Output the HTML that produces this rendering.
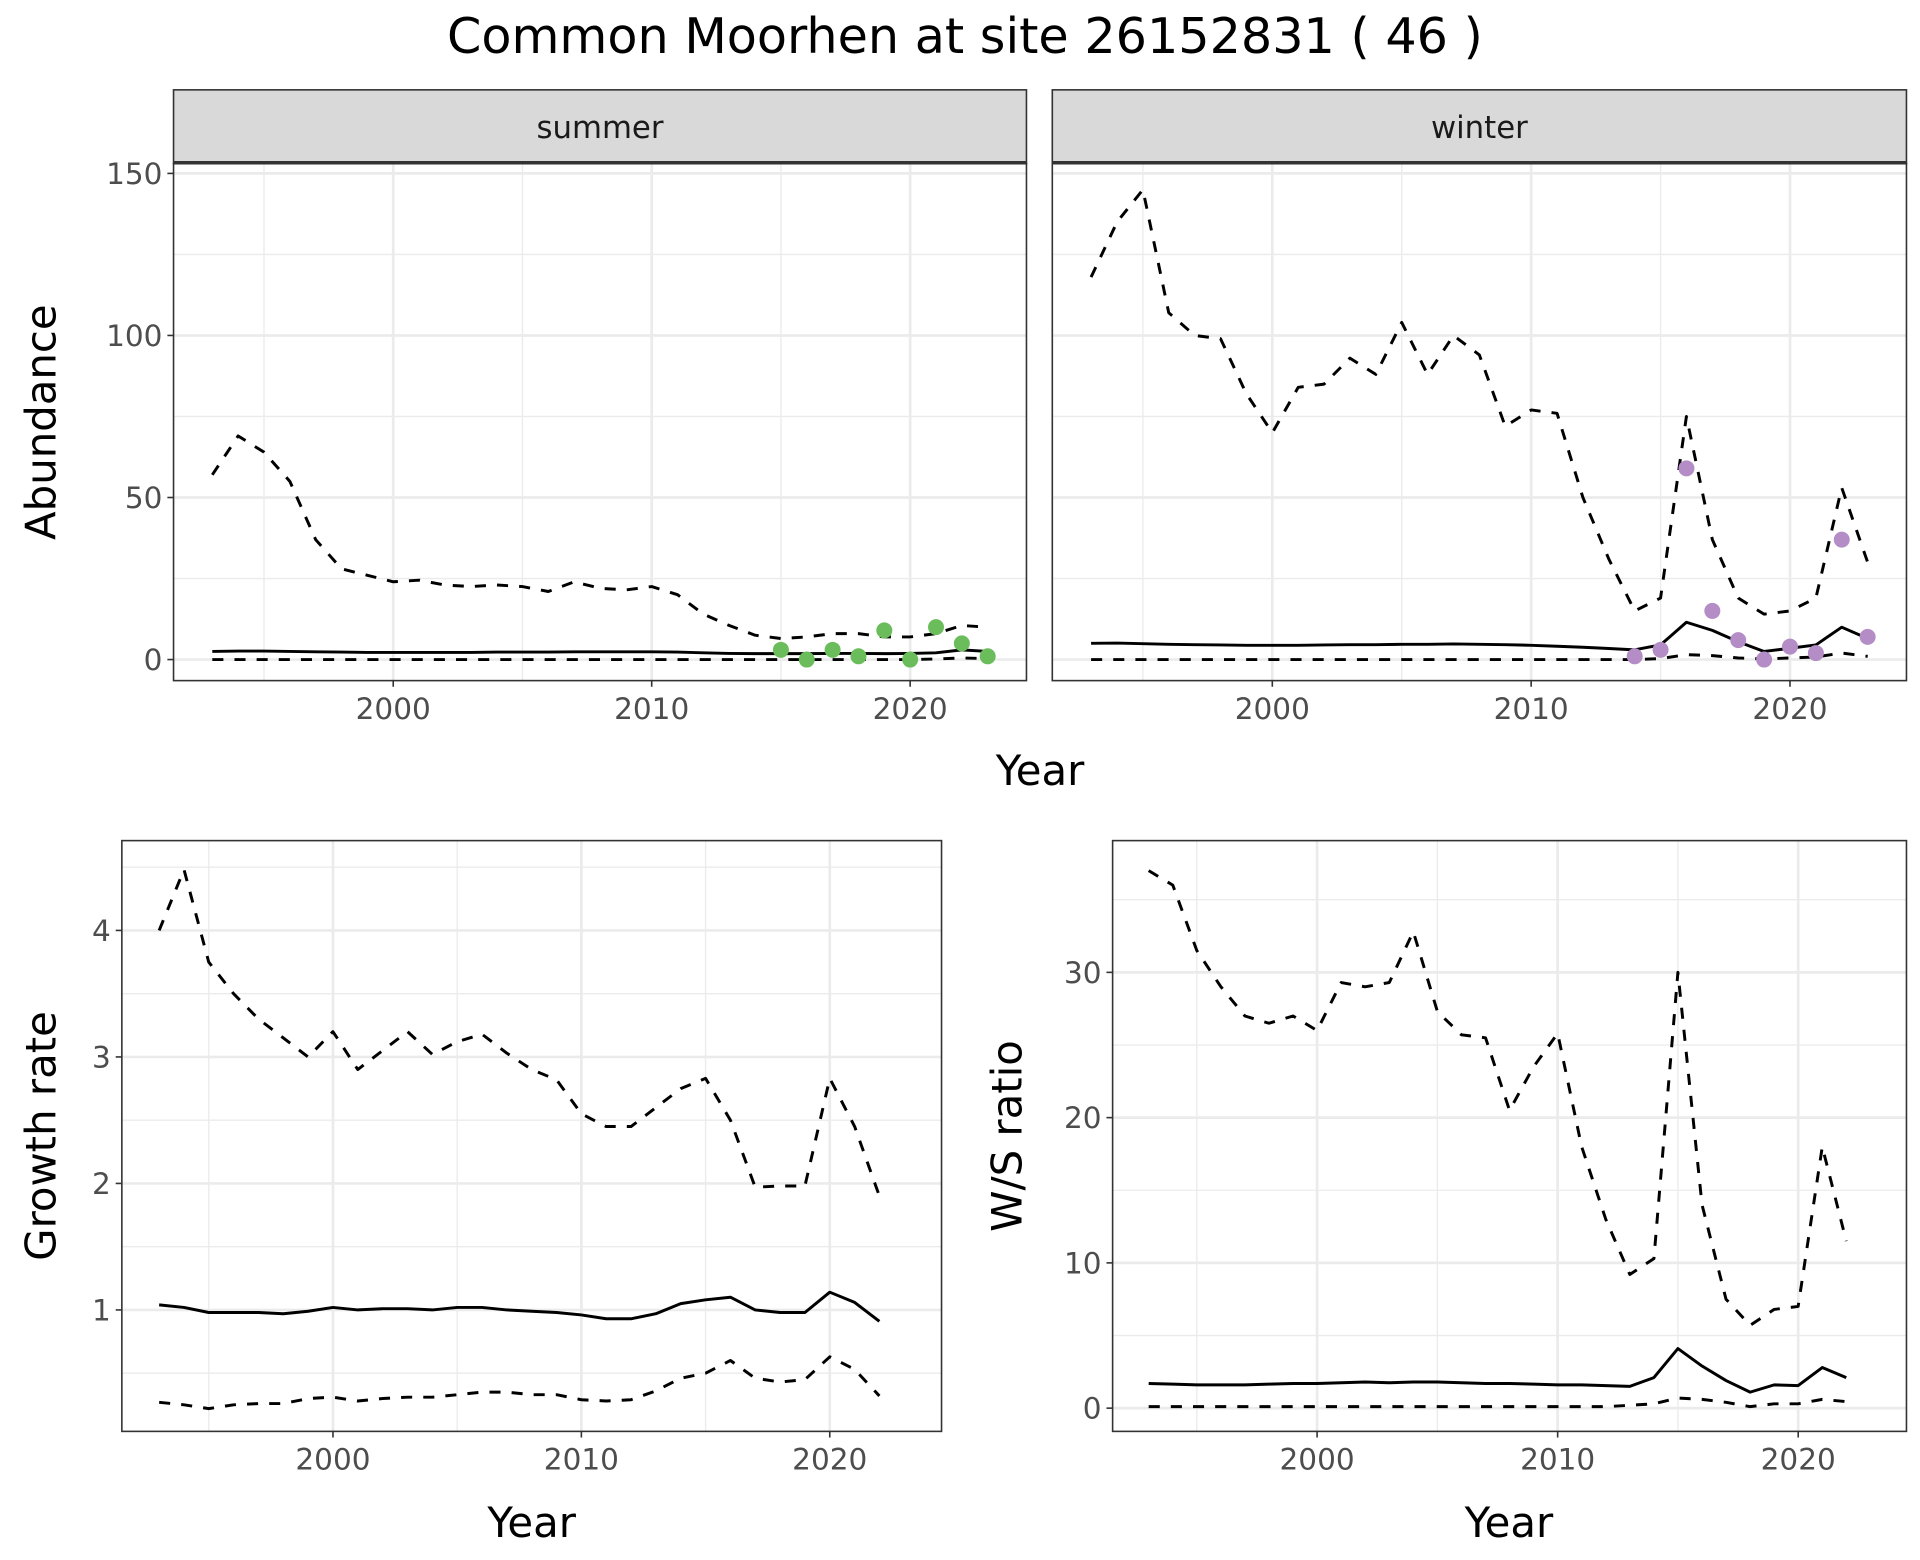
<!DOCTYPE html>
<html><head><meta charset="utf-8"><style>
html,body{margin:0;padding:0;background:#fff}
svg{display:block;font-family:"DejaVu Sans","Liberation Sans",sans-serif}
</style></head><body>
<svg id="c" width="1920" height="1560" viewBox="0 0 1560 1267.5" xmlns="http://www.w3.org/2000/svg">
<text x="784" y="43" text-anchor="middle" font-size="40" fill="#000">Common Moorhen at site 26152831 ( 46 )</text>
</svg>
<script>
// ---- data ----
const yearsA = [1993,1994,1995,1996,1997,1998,1999,2000,2001,2002,2003,2004,2005,2006,2007,2008,2009,2010,2011,2012,2013,2014,2015,2016,2017,2018,2019,2020,2021,2022,2023];
const summerUpper = [57,69,64,55,37,28,26,24,24.5,23,22.5,23,22.5,21,24,22,21.5,22.5,20,14,10.5,7.5,6.5,7,8,8,7,7,8,10.5,10];
const summerMid = [2.5,2.6,2.6,2.5,2.4,2.3,2.2,2.2,2.2,2.2,2.2,2.3,2.3,2.3,2.4,2.4,2.4,2.4,2.3,2.1,1.9,1.8,1.8,1.8,1.9,1.9,1.8,1.9,2.1,3,2.5];
const summerLower = [0,0,0,0,0,0,0,0,0,0,0,0,0,0,0,0,0,0,0,0,0,0,0,0,0,0,0,0,0.2,0.5,0.3];
const summerPtYears = [2015,2016,2017,2018,2019,2020,2021,2022,2023];
const summerCounts = [3,0,3,1,9,0,10,5,1];
const winterUpper = [118,135,145,107,100,99,82,70,84,85,93,88,104,88,100,94,72,77,76,50,31,15,19,75,37,19,14,15,19,53,30];
const winterMid = [5,5.1,4.9,4.7,4.6,4.5,4.4,4.4,4.4,4.5,4.6,4.6,4.7,4.7,4.8,4.7,4.6,4.4,4.1,3.8,3.4,3,4.5,11.5,9,5.5,2.5,3.5,4.5,10,6.5];
const winterLower = [0,0,0,0,0,0,0,0,0,0,0,0,0,0,0,0,0,0,0,0,0,0,0.3,1.5,1.2,0.5,0.2,0.5,0.8,2,1];
const winterPtYears = [2014,2015,2016,2017,2018,2019,2020,2021,2022,2023];
const winterCounts = [1,3,59,15,6,0,4,2,37,7];
const yearsB = [1993,1994,1995,1996,1997,1998,1999,2000,2001,2002,2003,2004,2005,2006,2007,2008,2009,2010,2011,2012,2013,2014,2015,2016,2017,2018,2019,2020,2021,2022];
const growthUpper = [4.0,4.48,3.75,3.5,3.3,3.15,3.0,3.2,2.9,3.05,3.2,3.02,3.12,3.18,3.03,2.9,2.82,2.55,2.45,2.45,2.6,2.75,2.83,2.5,1.97,1.98,1.98,2.83,2.45,1.9];
const growthMid = [1.04,1.02,0.98,0.98,0.98,0.97,0.99,1.02,1.0,1.01,1.01,1.0,1.02,1.02,1.0,0.99,0.98,0.96,0.93,0.93,0.97,1.05,1.08,1.1,1.0,0.98,0.98,1.14,1.06,0.91];
const growthLower = [0.27,0.25,0.22,0.25,0.26,0.26,0.3,0.31,0.28,0.3,0.31,0.31,0.33,0.35,0.35,0.33,0.33,0.29,0.28,0.29,0.36,0.46,0.5,0.6,0.46,0.43,0.45,0.63,0.53,0.32];
const wsUpper = [37,36,31.5,29,27,26.5,27,26,29.3,29,29.3,32.8,27.3,25.7,25.5,20.5,23.5,25.8,18,13,9.2,10.3,30,14,7.5,5.7,6.8,7,18,11.5];
const wsMid = [1.7,1.65,1.6,1.6,1.6,1.65,1.7,1.7,1.75,1.8,1.75,1.8,1.8,1.75,1.7,1.7,1.65,1.6,1.6,1.55,1.5,2.1,4.1,2.9,1.9,1.1,1.6,1.55,2.8,2.1];
const wsLower = [0.1,0.1,0.1,0.1,0.1,0.1,0.1,0.1,0.1,0.1,0.1,0.1,0.1,0.1,0.1,0.1,0.1,0.1,0.1,0.1,0.2,0.3,0.7,0.6,0.4,0.1,0.3,0.3,0.6,0.45];
const xTicks = [2000,2010,2020];
const xMinor = [1995,2005,2015];
const abTicks = [0,50,100,150];
const abMinor = [25,75,125];
const grTicks = [1,2,3,4];
const grMinor = [0.5,1.5,2.5,3.5,4.5];
const wsTicks = [0,10,20,30];
const wsMinor = [5,15,25,35];

const NS = "http://www.w3.org/2000/svg";
const svg = document.getElementById('c');
function mk(tag, attrs, parent){const e=document.createElementNS(NS,tag);for(const k in attrs)e.setAttribute(k,attrs[k]);(parent||svg).appendChild(e);return e;}

function panel(p){
  const g = mk('g',{});
  
  
  const sx = v => p.x0 + (v - 1991.5)/(33)*(p.x1-p.x0);
  const sy = v => p.y1 - (v - p.ymin)/(p.ymax-p.ymin)*(p.y1-p.y0);
  mk('rect',{x:p.x0,y:p.y0,width:p.x1-p.x0,height:p.y1-p.y0,fill:'#fff'},g);
  p.yMinor.forEach(v=>{const y=sy(v);if(y>p.y0&&y<p.y1)mk('line',{x1:p.x0,x2:p.x1,y1:y,y2:y,stroke:'#ebebeb','stroke-width':1.1},g);});
  xMinor.forEach(v=>{const x=sx(v);mk('line',{x1:x,x2:x,y1:p.y0,y2:p.y1,stroke:'#ebebeb','stroke-width':1.1},g);});
  p.yTicks.forEach(v=>{const y=sy(v);mk('line',{x1:p.x0,x2:p.x1,y1:y,y2:y,stroke:'#ebebeb','stroke-width':2.2},g);});
  xTicks.forEach(v=>{const x=sx(v);mk('line',{x1:x,x2:x,y1:p.y0,y2:p.y1,stroke:'#ebebeb','stroke-width':2.2},g);});
  p.series.forEach(s=>{
    const pts = s.ys.map((v,i)=>sx(s.xs[i]).toFixed(1)+','+sy(v).toFixed(1)).join(' ');
    const l = mk('polyline',{points:pts,fill:'none',stroke:'#000','stroke-width':2.4,'stroke-dasharray':s.dash?'9,9':'none','stroke-linejoin':'round'},g);
    
    
  });
  if(p.points){
    p.points.ys.forEach((v,i)=>{
      const c = mk('circle',{cx:sx(p.points.xs[i]),cy:sy(v),r:6.5,fill:p.points.color},g);
      
      
    });
  }
  mk('rect',{x:p.x0,y:p.y0,width:p.x1-p.x0,height:p.y1-p.y0,fill:'none',stroke:'#333','stroke-width':1.3},g);
  if(p.showY){
    p.yTicks.forEach(v=>{const y=sy(v);
      mk('line',{x1:p.x0-5,x2:p.x0,y1:y,y2:y,stroke:'#333','stroke-width':1.3},g);
      const t=mk('text',{x:p.x0-9,y:y+8.5,'text-anchor':'end','font-size':24,fill:'#4d4d4d'},g);t.textContent=v;
      
      
    });
  }
  xTicks.forEach(v=>{const x=sx(v);
    mk('line',{x1:x,x2:x,y1:p.y1,y2:p.y1+5,stroke:'#333','stroke-width':1.3},g);
    const t=mk('text',{x:x,y:p.y1+31,'text-anchor':'middle','font-size':24,fill:'#4d4d4d'},g);t.textContent=v;
    
    
  });
  if(p.strip){
    mk('rect',{x:p.x0,y:73,width:p.x1-p.x0,height:p.y0-73,fill:'#d9d9d9',stroke:'#333','stroke-width':1.3},g);
    mk('line',{x1:p.x0,x2:p.x1,y1:p.y0-1,y2:p.y0-1,stroke:'#333','stroke-width':2.4},g);
    const t=mk('text',{x:(p.x0+p.x1)/2,y:112,'text-anchor':'middle','font-size':25,fill:'#1a1a1a'},g);t.textContent=p.strip;
    
    
  }
  if(p.xTitle){
    const t=mk('text',{x:p.xTitleX,y:p.xTitleY,'text-anchor':'middle','font-size':34,fill:'#000'},g);t.textContent='Year';
    
    
  }
  if(p.yTitle){
    const t=mk('text',{x:0,y:0,'text-anchor':'middle','font-size':34,fill:'#000',transform:`translate(${p.yTitleX},${(p.y0+p.y1)/2}) rotate(-90)`},g);t.textContent=p.yTitle;
    
    
  }
}

panel({name:'summer-panel',x0:141,x1:834,y0:133,y1:553,ymin:-6.5,ymax:153,yTicks:abTicks,yMinor:abMinor,showY:true,strip:'summer',yTitle:'Abundance',yTitleX:45,
  series:[{name:'summer-upper',xs:yearsA,ys:summerUpper,dash:true},{name:'summer-mid',xs:yearsA,ys:summerMid},{name:'summer-lower',xs:yearsA,ys:summerLower,dash:true}],
  points:{xs:summerPtYears,ys:summerCounts,color:'#6abd5a'},xTitle:true,xTitleX:845,xTitleY:638});
panel({name:'winter-panel',x0:855,x1:1549,y0:133,y1:553,ymin:-6.5,ymax:153,yTicks:abTicks,yMinor:abMinor,showY:false,strip:'winter',
  series:[{name:'winter-upper',xs:yearsA,ys:winterUpper,dash:true},{name:'winter-mid',xs:yearsA,ys:winterMid},{name:'winter-lower',xs:yearsA,ys:winterLower,dash:true}],
  points:{xs:winterPtYears,ys:winterCounts,color:'#b48dc7'}});
panel({name:'growth-panel',x0:99,x1:765,y0:683,y1:1163,ymin:0.04,ymax:4.71,yTicks:grTicks,yMinor:grMinor,showY:true,yTitle:'Growth rate',yTitleX:45,
  series:[{name:'growth-upper',xs:yearsB,ys:growthUpper,dash:true},{name:'growth-mid',xs:yearsB,ys:growthMid},{name:'growth-lower',xs:yearsB,ys:growthLower,dash:true}],
  xTitle:true,xTitleX:432,xTitleY:1249});
panel({name:'ws-panel',x0:904,x1:1549,y0:683,y1:1163,ymin:-1.6,ymax:39.07,yTicks:wsTicks,yMinor:wsMinor,showY:true,yTitle:'W/S ratio',yTitleX:830,
  series:[{name:'ws-upper',xs:yearsB,ys:wsUpper,dash:true},{name:'ws-mid',xs:yearsB,ys:wsMid},{name:'ws-lower',xs:yearsB,ys:wsLower,dash:true}],
  xTitle:true,xTitleX:1226,xTitleY:1249});
</script>
</body></html>
